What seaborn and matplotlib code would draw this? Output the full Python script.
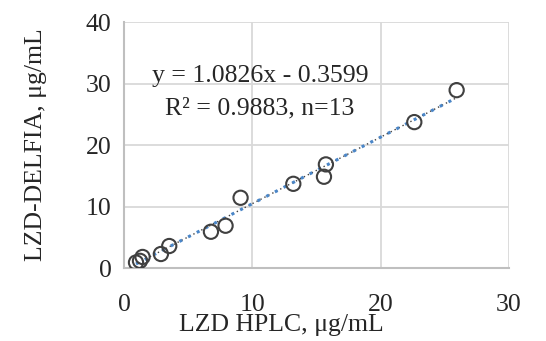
import matplotlib
matplotlib.use("Agg")
import matplotlib.pyplot as plt
import seaborn as sns
import numpy as np
import pandas as pd

# Data
hplc = [0.94, 1.25, 1.45, 2.88, 3.53, 6.78, 7.92, 9.09, 13.2, 15.59, 15.74, 22.63, 25.93]
delfia = [0.9, 1.17, 1.8, 2.28, 3.58, 5.9, 6.88, 11.43, 13.7, 14.85, 16.86, 23.74, 28.94]
slope = 1.0826
intercept = -0.3599
eq_line1 = "y = 1.0826x - 0.3599"
eq_line2 = "R² = 0.9883, n=13"
x_ticks = [0, 10, 20, 30]
y_ticks = [0, 10, 20, 30, 40]

df = pd.DataFrame({"HPLC": hplc, "DELFIA": delfia})

sns.set_style("white")
plt.rcParams['font.family'] = ['Liberation Serif', 'DejaVu Serif']

fig = plt.figure(figsize=(5.46, 3.41), dpi=100)
ax = fig.add_axes([0.227, 0.214, 0.705, 0.721])

ax.set_xlim(0, 30)
ax.set_ylim(0, 40)
ax.set_xticks(x_ticks)
ax.set_yticks(y_ticks)
ax.grid(True, color='#D9D9D9', lw=1.3)
ax.set_axisbelow(True)

# trendline
tx = np.array([min(hplc), max(hplc)])
ty = slope * tx + intercept
trend = pd.DataFrame({"x": tx, "y": ty})
sns.lineplot(data=trend, x="x", y="y", ax=ax, color='#404040', lw=1.0,
             linestyle=(1.5, (1, 2.2)), zorder=2)
sns.lineplot(data=trend, x="x", y="y", ax=ax, color='#4A86C8', lw=2.2,
             linestyle=(0, (1, 2.2)), zorder=3)

sns.scatterplot(data=df, x="HPLC", y="DELFIA", ax=ax, marker='o', s=105,
                facecolor='none', edgecolor='#404040', linewidth=1.5, zorder=4)

for s in ['top', 'right']:
    ax.spines[s].set_visible(False)
for s in ['left', 'bottom']:
    ax.spines[s].set_color('#BFBFBF')
    ax.spines[s].set_linewidth(1.5)

ax.tick_params(axis='x', length=0, pad=18.5, labelsize=18.5)
ax.tick_params(axis='y', length=0, pad=9, labelsize=18.5)

ax.text(10.6, 31.2, eq_line1, ha='center', va='center', fontsize=18.5)
ax.text(10.6, 26.0, eq_line2, ha='center', va='center', fontsize=18.5)

ax.set_xlabel("LZD HPLC, μg/mL", fontsize=18.5)
ax.set_ylabel("LZD-DELFIA, μg/mL", fontsize=18.5)
ax.xaxis.set_label_coords(0.408, -0.185)
ax.yaxis.set_label_coords(-0.20, 0.5)

fig.savefig("out.png", dpi=100)
